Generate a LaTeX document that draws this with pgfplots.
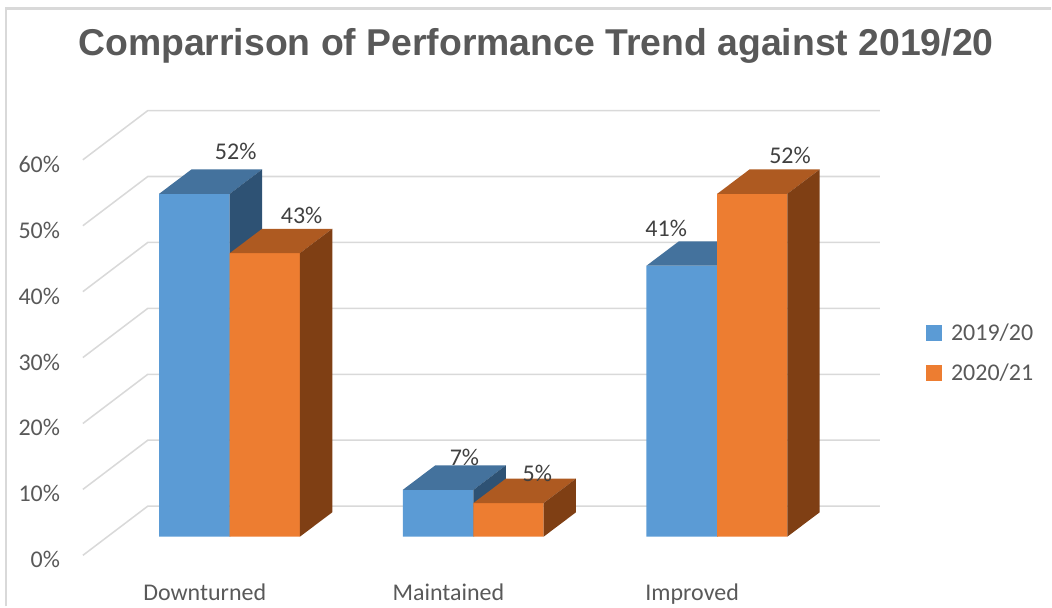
\documentclass[border=0pt]{standalone}
\usepackage{pgfplots}
\pgfplotsset{compat=1.18}
\usepackage{fontspec}
\setmainfont{Carlito}
\newfontfamily\titlefont{Liberation Sans}
\definecolor{cblue}{HTML}{5B9BD5}
\definecolor{corange}{HTML}{ED7D31}
\definecolor{cbluetop}{HTML}{44729D}
\definecolor{cblueside}{HTML}{2E5274}
\definecolor{corangetop}{HTML}{AE5A21}
\definecolor{corangeside}{HTML}{7F3F14}
\definecolor{cgrid}{HTML}{D9D9D9}
\definecolor{ctext}{HTML}{595959}
\definecolor{clabel}{HTML}{404040}
\pgfplotstableread{
c   v
0   52
1   7.1
2   41.1
}\blueseries
\pgfplotstableread{
c   v
0   43
1   5.1
2   52
}\orangeseries
\begin{document}
\begin{tikzpicture}
\begin{axis}[
  scale only axis,
  width=598.5pt, height=333.98pt,
  xmin=-0.6025, xmax=2.668,
  ymin=-2.83, ymax=64.636,
  clip=false,
  axis line style={draw=none},
  major tick length=0pt,
  tick style={draw=none},
  xtick={-0.1025,0.8975,1.8975},
  xticklabels={Downturned,Maintained,Improved},
  ytick={-2.83,7.17,17.17,27.17,37.17,47.17,57.17},
  yticklabels={0\%,10\%,20\%,30\%,40\%,50\%,60\%},
  tick label style={font=\fontsize{18pt}{20pt}\selectfont, text=ctext, inner sep=0pt},
  yticklabel style={yshift=-3.3pt},
  yticklabel shift=17pt,
  xticklabel shift=21.5pt,
  title={\titlefont\bfseries Comparrison of Performance Trend against 2019/20},
  title style={at={(0.5685,1.127)}, anchor=center, font=\fontsize{28.05pt}{32pt}\selectfont, text=ctext, inner sep=0pt},
  legend style={at={(1.0575,0.526)}, anchor=north west, draw=none, fill=none,
    font=\fontsize{18pt}{20pt}\selectfont, text=ctext, inner sep=0pt, outer sep=0pt,
    row sep=12pt, cells={anchor=west}},
]
% chart border
\draw[cgrid, line width=1.9pt] (axis cs:-0.918,-10.56) -- (axis cs:-0.918,80.12) -- (axis cs:3.3689,80.12);
\path (axis cs:-0.9426,-10.56) rectangle (axis cs:3.3689,81.41);
% back and side wall gridlines
\addplot[forget plot, cgrid, line width=1.15pt] coordinates {(-0.6025,-2.83) (-0.3361,4.636) (2.668,4.636)};
\addplot[forget plot, cgrid, line width=1.15pt] coordinates {(-0.6025,7.17) (-0.3361,14.636) (2.668,14.636)};
\addplot[forget plot, cgrid, line width=1.15pt] coordinates {(-0.6025,17.17) (-0.3361,24.636) (2.668,24.636)};
\addplot[forget plot, cgrid, line width=1.15pt] coordinates {(-0.6025,27.17) (-0.3361,34.636) (2.668,34.636)};
\addplot[forget plot, cgrid, line width=1.15pt] coordinates {(-0.6025,37.17) (-0.3361,44.636) (2.668,44.636)};
\addplot[forget plot, cgrid, line width=1.15pt] coordinates {(-0.6025,47.17) (-0.3361,54.636) (2.668,54.636)};
\addplot[forget plot, cgrid, line width=1.15pt] coordinates {(-0.6025,57.17) (-0.3361,64.636) (2.668,64.636)};
% blue series
\addplot[ybar, bar width=0.29, bar shift=-0.145, fill=cblue, draw=none,
  legend image code/.code={\fill[cblue] (0pt,-6pt) rectangle (12pt,6pt);}]
  table[x=c,y=v] {\blueseries};
\addlegendentry{\hspace*{5pt}2019/20}
\addplot[forget plot, fill=cbluetop, draw=none] coordinates {(-0.29,52) (0,52) (0.1328,55.7) (-0.1572,55.7)} -- cycle;
\addplot[forget plot, fill=cblueside, draw=none] coordinates {(0,0) (0,52) (0.1328,55.7) (0.1328,3.7)} -- cycle;
\addplot[forget plot, fill=cbluetop, draw=none] coordinates {(0.71,7.1) (1,7.1) (1.1328,10.8) (0.8428,10.8)} -- cycle;
\addplot[forget plot, fill=cblueside, draw=none] coordinates {(1,0) (1,7.1) (1.1328,10.8) (1.1328,3.7)} -- cycle;
\addplot[forget plot, fill=cbluetop, draw=none] coordinates {(1.71,41.1) (2,41.1) (2.1328,44.8) (1.8428,44.8)} -- cycle;
\addplot[forget plot, fill=cblueside, draw=none] coordinates {(2,0) (2,41.1) (2.1328,44.8) (2.1328,3.7)} -- cycle;
% orange series
\addplot[ybar, bar width=0.288, bar shift=0.144, fill=corange, draw=none,
  legend image code/.code={\fill[corange] (0pt,-6pt) rectangle (12pt,6pt);}]
  table[x=c,y=v] {\orangeseries};
\addlegendentry{\hspace*{5pt}2020/21}
\addplot[forget plot, fill=corangetop, draw=none] coordinates {(0,43) (0.288,43) (0.4208,46.7) (0.1328,46.7)} -- cycle;
\addplot[forget plot, fill=corangeside, draw=none] coordinates {(0.288,0) (0.288,43) (0.4208,46.7) (0.4208,3.7)} -- cycle;
\addplot[forget plot, fill=corangetop, draw=none] coordinates {(1,5.1) (1.288,5.1) (1.4208,8.8) (1.1328,8.8)} -- cycle;
\addplot[forget plot, fill=corangeside, draw=none] coordinates {(1.288,0) (1.288,5.1) (1.4208,8.8) (1.4208,3.7)} -- cycle;
\addplot[forget plot, fill=corangetop, draw=none] coordinates {(2,52) (2.288,52) (2.4208,55.7) (2.1328,55.7)} -- cycle;
\addplot[forget plot, fill=corangeside, draw=none] coordinates {(2.288,0) (2.288,52) (2.4208,55.7) (2.4208,3.7)} -- cycle;
% data labels
\begin{scope}[every node/.style={font=\fontsize{18pt}{20pt}\selectfont, text=clabel, inner sep=0pt}]
\node at (axis cs:0.0246,58.4) {52\%};
\node at (axis cs:0.2951,48.8) {43\%};
\node at (axis cs:0.9631,11.99) {7\%};
\node at (axis cs:1.2623,9.59) {5\%};
\node at (axis cs:1.791,46.7) {41\%};
\node at (axis cs:2.2992,57.9) {52\%};
\end{scope}
\end{axis}
\end{tikzpicture}
\end{document}
